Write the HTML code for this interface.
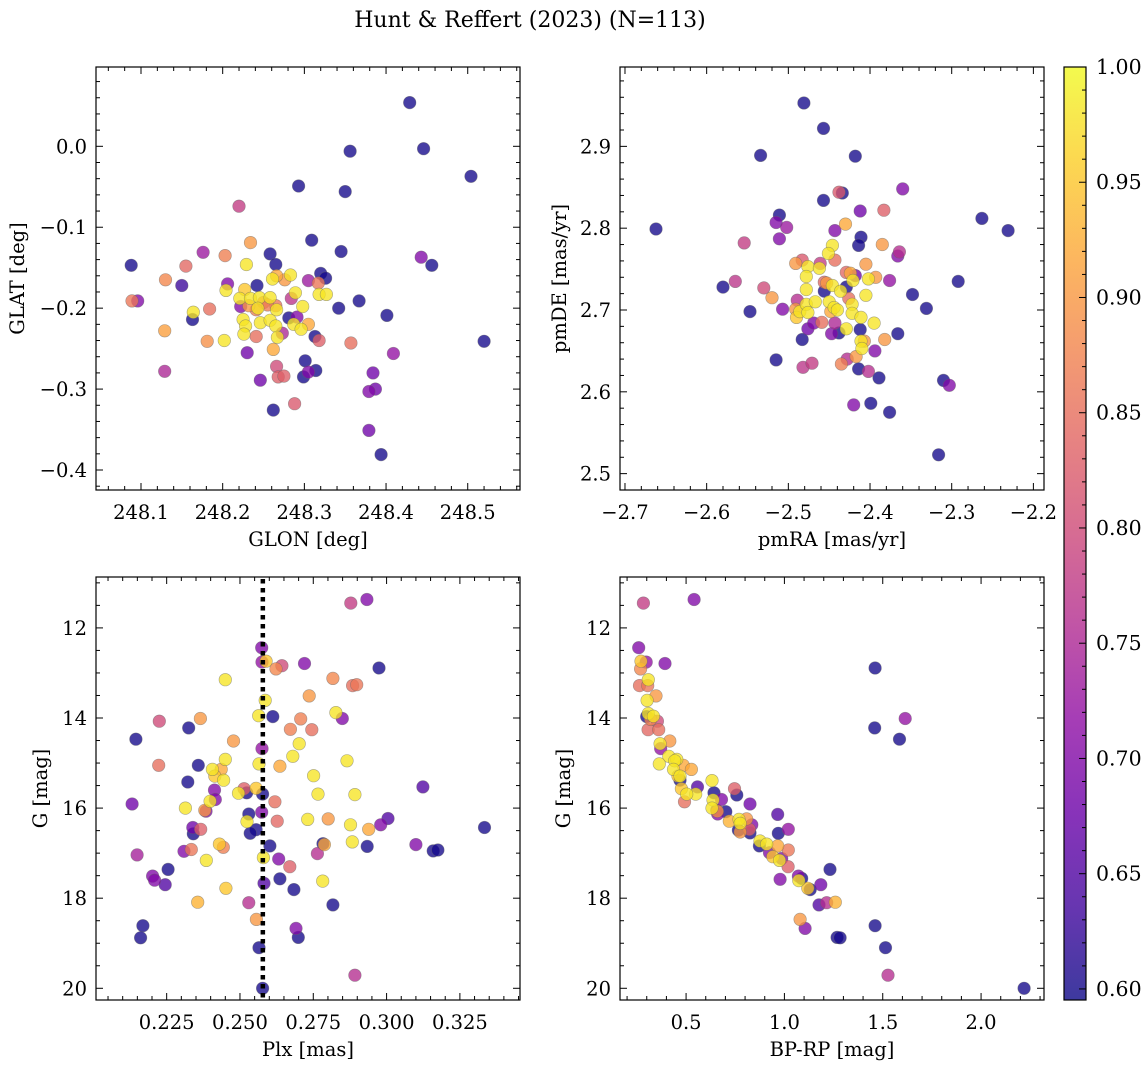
<!DOCTYPE html>
<html><head><meta charset="utf-8">
<style>
html,body{margin:0;padding:0;background:#fff;}
svg{display:block;font-family:"DejaVu Serif","Liberation Serif",serif;}
</style></head>
<body>
<svg id="fig" width="1148" height="1067" viewBox="0 0 1148 1067" xmlns="http://www.w3.org/2000/svg">
<defs>
<linearGradient id="plasma" x1="0" y1="1" x2="0" y2="0">
<stop offset="0" stop-color="#0d0887"/><stop offset="0.1" stop-color="#41049d"/><stop offset="0.2" stop-color="#6a00a8"/><stop offset="0.3" stop-color="#8f0da4"/><stop offset="0.4" stop-color="#b12a90"/><stop offset="0.5" stop-color="#cc4778"/><stop offset="0.6" stop-color="#e16462"/><stop offset="0.7" stop-color="#f2844b"/><stop offset="0.8" stop-color="#fca636"/><stop offset="0.9" stop-color="#fcce25"/><stop offset="1" stop-color="#f0f921"/>
</linearGradient>
</defs>
<text x="530" y="27" font-size="22" text-anchor="middle">Hunt &amp; Reffert (2023) (N=113)</text>
</svg>
<script>
// ---------- data ----------
const glon=[248.429,248.446,248.356,248.504,248.293,248.350,248.220,248.234,248.309,248.345,248.176,248.203,248.258,248.088,248.155,248.229,248.265,248.443,248.456,248.130,248.150,248.206,248.242,248.261,248.266,248.276,248.283,248.305,248.320,248.326,248.317,248.318,248.327,248.089,248.096,248.204,248.227,248.221,248.234,248.245,248.258,248.255,248.265,248.284,248.289,248.222,248.241,248.243,248.266,248.298,248.184,248.342,248.367,248.164,248.163,248.401,248.281,248.291,248.225,248.246,248.258,248.228,248.265,248.287,248.296,248.305,248.129,248.226,248.241,248.267,248.273,248.313,248.318,248.181,248.202,248.262,248.357,248.520,248.230,248.409,248.301,248.266,248.129,248.268,248.275,248.246,248.299,248.305,248.314,248.384,248.379,248.387,248.262,248.288,248.379,248.394,248.232,248.250];
const glat=[0.054,-0.003,-0.006,-0.037,-0.049,-0.056,-0.074,-0.119,-0.116,-0.130,-0.131,-0.135,-0.133,-0.147,-0.148,-0.146,-0.146,-0.137,-0.147,-0.165,-0.172,-0.170,-0.172,-0.164,-0.160,-0.165,-0.159,-0.166,-0.157,-0.163,-0.169,-0.183,-0.183,-0.191,-0.191,-0.178,-0.177,-0.188,-0.188,-0.187,-0.187,-0.196,-0.197,-0.188,-0.181,-0.198,-0.202,-0.200,-0.202,-0.198,-0.201,-0.200,-0.191,-0.205,-0.214,-0.209,-0.212,-0.211,-0.214,-0.218,-0.215,-0.222,-0.222,-0.220,-0.226,-0.220,-0.228,-0.232,-0.235,-0.236,-0.231,-0.235,-0.240,-0.241,-0.240,-0.251,-0.243,-0.241,-0.255,-0.256,-0.265,-0.272,-0.278,-0.285,-0.284,-0.289,-0.285,-0.279,-0.277,-0.280,-0.303,-0.300,-0.326,-0.318,-0.351,-0.381,-0.197,-0.193];
const probA=[0.6,0.6,0.6,0.6,0.6,0.6,0.78,0.9,0.6,0.6,0.73,0.87,0.6,0.6,0.84,0.98,0.6,0.7,0.6,0.88,0.63,0.7,0.6,0.98,0.92,0.9,0.98,0.73,0.6,0.6,0.86,0.98,0.98,0.86,0.7,0.98,0.95,0.98,0.98,0.98,0.98,0.87,0.86,0.77,0.98,0.7,0.87,0.98,0.98,0.98,0.85,0.6,0.6,0.98,0.6,0.6,0.6,0.7,0.98,0.98,0.98,0.98,0.98,0.98,0.98,0.92,0.91,0.98,0.85,0.98,0.75,0.6,0.83,0.89,0.98,0.92,0.85,0.6,0.68,0.72,0.6,0.8,0.75,0.83,0.83,0.68,0.6,0.7,0.6,0.68,0.7,0.68,0.6,0.82,0.68,0.6,0.9,0.86];

const pmra=[-2.481,-2.457,-2.534,-2.418,-2.360,-2.438,-2.434,-2.457,-2.383,-2.412,-2.511,-2.515,-2.502,-2.263,-2.231,-2.662,-2.430,-2.443,-2.511,-2.411,-2.414,-2.554,-2.385,-2.446,-2.451,-2.364,-2.366,-2.491,-2.483,-2.461,-2.476,-2.462,-2.443,-2.405,-2.429,-2.424,-2.478,-2.456,-2.453,-2.446,-2.418,-2.421,-2.402,-2.393,-2.376,-2.292,-2.580,-2.565,-2.530,-2.520,-2.456,-2.478,-2.429,-2.436,-2.405,-2.426,-2.348,-2.331,-2.547,-2.507,-2.489,-2.491,-2.486,-2.478,-2.467,-2.476,-2.450,-2.448,-2.444,-2.440,-2.422,-2.422,-2.411,-2.490,-2.469,-2.476,-2.459,-2.443,-2.429,-2.395,-2.366,-2.447,-2.438,-2.412,-2.483,-2.407,-2.411,-2.410,-2.382,-2.394,-2.515,-2.482,-2.471,-2.435,-2.428,-2.417,-2.414,-2.402,-2.389,-2.310,-2.303,-2.420,-2.399,-2.376,-2.316];
const pmde=[2.953,2.922,2.889,2.888,2.848,2.844,2.843,2.834,2.822,2.821,2.816,2.807,2.801,2.812,2.797,2.799,2.805,2.797,2.787,2.789,2.779,2.782,2.780,2.779,2.769,2.771,2.766,2.757,2.761,2.757,2.753,2.751,2.761,2.756,2.746,2.745,2.741,2.734,2.733,2.730,2.742,2.736,2.738,2.740,2.736,2.735,2.728,2.735,2.727,2.715,2.723,2.725,2.728,2.723,2.718,2.714,2.719,2.702,2.698,2.701,2.712,2.701,2.698,2.707,2.710,2.697,2.710,2.698,2.703,2.700,2.707,2.696,2.691,2.691,2.684,2.677,2.685,2.684,2.677,2.684,2.671,2.671,2.672,2.676,2.664,2.662,2.662,2.653,2.664,2.650,2.639,2.630,2.635,2.634,2.640,2.643,2.628,2.625,2.617,2.614,2.608,2.584,2.586,2.575,2.523];
const probB=[0.6,0.6,0.6,0.6,0.7,0.82,0.6,0.6,0.83,0.68,0.6,0.7,0.73,0.6,0.6,0.6,0.92,0.7,0.7,0.6,0.6,0.78,0.9,0.98,0.98,0.76,0.7,0.9,0.82,0.78,0.98,0.98,0.85,0.9,0.84,0.92,0.98,0.84,0.9,0.98,0.68,0.98,0.98,0.9,0.72,0.6,0.6,0.77,0.8,0.9,0.6,0.98,0.6,0.98,0.98,0.85,0.6,0.6,0.6,0.7,0.76,0.9,0.98,0.98,0.98,0.98,0.98,0.92,0.98,0.98,0.98,0.98,0.98,0.95,0.7,0.68,0.85,0.75,0.98,0.98,0.6,0.7,0.6,0.6,0.6,0.9,0.98,0.98,0.9,0.7,0.6,0.77,0.78,0.87,0.76,0.9,0.6,0.76,0.6,0.6,0.7,0.7,0.6,0.6,0.6];

const plx=[0.2933,0.2878,0.2574,0.2575,0.2589,0.2623,0.2643,0.2720,0.2974,0.2450,0.2817,0.2884,0.2898,0.2736,0.2586,0.2564,0.2612,0.2827,0.2849,0.2707,0.2225,0.2365,0.2325,0.2672,0.2745,0.2145,0.2478,0.2702,0.2575,0.2680,0.2450,0.2865,0.2565,0.2223,0.2358,0.2636,0.2406,0.2436,0.2414,0.2444,0.2751,0.2322,0.3124,0.2514,0.2555,0.2523,0.2495,0.2577,0.2413,0.2416,0.2398,0.2766,0.2892,0.2619,0.2132,0.2314,0.2384,0.2380,0.2574,0.2530,0.3005,0.2731,0.2801,0.2627,0.2524,0.2980,0.2877,0.2939,0.2339,0.2366,0.3334,0.2555,0.2535,0.2341,0.2883,0.2430,0.2443,0.2788,0.2783,0.2602,0.2934,0.3100,0.3159,0.3175,0.2309,0.2334,0.2764,0.2149,0.2385,0.2580,0.2632,0.2670,0.2255,0.2202,0.2209,0.2245,0.2636,0.2782,0.2582,0.2452,0.2684,0.2817,0.2356,0.2530,0.2556,0.2169,0.2691,0.2161,0.2699,0.2565,0.2892,0.2577];
const gmagC=[11.37,11.45,12.44,12.76,12.74,12.91,12.84,12.79,12.89,13.15,13.12,13.28,13.26,13.51,13.61,13.95,13.97,13.88,14.01,14.02,14.07,14.01,14.22,14.25,14.26,14.47,14.51,14.57,14.68,14.85,14.92,14.95,15.02,15.05,15.05,15.07,15.14,15.14,15.29,15.38,15.28,15.42,15.53,15.57,15.56,15.66,15.67,15.69,15.60,15.81,15.85,15.69,15.70,15.86,15.91,16.00,16.07,16.05,16.09,16.13,16.23,16.25,16.24,16.29,16.30,16.37,16.37,16.47,16.43,16.47,16.43,16.48,16.56,16.57,16.75,16.80,16.87,16.81,16.79,16.84,16.85,16.81,16.95,16.93,16.96,16.92,17.01,17.04,17.16,17.10,17.13,17.30,17.36,17.51,17.60,17.70,17.57,17.62,17.67,17.78,17.81,18.15,18.09,18.10,18.47,18.61,18.67,18.88,18.87,19.10,19.71,20.00];
const probC=[0.7,0.78,0.7,0.72,0.95,0.88,0.8,0.7,0.6,0.98,0.88,0.85,0.86,0.9,0.98,0.98,0.6,0.98,0.7,0.87,0.8,0.9,0.6,0.87,0.85,0.6,0.9,0.98,0.72,0.98,0.98,0.98,0.98,0.85,0.6,0.92,0.98,0.92,0.95,0.98,0.98,0.6,0.65,0.83,0.95,0.6,0.98,0.6,0.7,0.7,0.98,0.98,0.98,0.85,0.68,0.98,0.7,0.9,0.7,0.6,0.65,0.98,0.9,0.84,0.98,0.7,0.98,0.92,0.68,0.83,0.6,0.6,0.6,0.6,0.98,0.95,0.87,0.92,0.6,0.6,0.6,0.7,0.6,0.6,0.7,0.86,0.76,0.74,0.98,0.98,0.7,0.83,0.6,0.7,0.7,0.65,0.6,0.98,0.65,0.95,0.6,0.6,0.93,0.76,0.9,0.6,0.7,0.6,0.6,0.6,0.76,0.6];
const plxRef=[0.2578];

const bprp=[0.283,0.541,0.259,0.297,0.271,0.269,0.393,1.461,0.308,0.305,0.263,0.347,0.302,0.308,0.300,1.614,0.334,0.354,0.320,0.307,0.361,1.459,1.585,0.417,0.368,0.371,0.412,0.364,0.453,0.442,0.486,0.527,0.436,0.459,0.469,0.469,0.632,0.558,0.476,0.746,0.758,0.642,0.549,0.503,0.680,0.637,0.492,0.825,0.632,0.656,0.659,0.702,0.966,0.661,0.720,0.769,0.808,0.775,0.834,1.020,0.969,0.825,0.766,0.822,0.775,0.873,0.876,0.910,0.966,0.924,1.020,0.986,0.941,0.975,1.019,1.232,0.978,1.071,1.088,1.073,1.185,1.131,1.119,1.176,1.215,1.259,1.080,1.105,1.461,1.268,1.283,1.514,1.527,2.219];
const gmagD=[11.45,11.37,12.44,12.76,12.74,12.91,12.79,12.89,13.15,13.28,13.28,13.51,13.61,13.90,13.97,14.01,13.96,14.07,14.03,14.26,14.26,14.22,14.47,14.51,14.57,14.68,14.85,15.02,14.92,14.95,15.05,15.14,15.14,15.29,15.38,15.29,15.39,15.53,15.57,15.57,15.71,15.66,15.69,15.69,15.81,15.82,15.86,15.91,16.00,16.05,16.07,16.08,16.14,16.13,16.29,16.25,16.24,16.34,16.37,16.47,16.56,16.55,16.49,16.47,16.53,16.84,16.73,16.80,16.84,16.99,16.93,17.12,17.08,17.16,17.30,17.36,17.58,17.51,17.56,17.61,17.70,17.81,17.78,18.15,18.10,18.09,18.47,18.67,18.61,18.87,18.88,19.10,19.71,20.00];
const probD=[0.78,0.7,0.7,0.72,0.95,0.88,0.7,0.6,0.98,0.86,0.85,0.9,0.98,0.98,0.6,0.72,0.98,0.8,0.87,0.84,0.85,0.6,0.6,0.9,0.98,0.72,0.98,0.98,0.98,0.98,0.92,0.92,0.98,0.95,0.6,0.98,0.98,0.65,0.95,0.83,0.6,0.6,0.98,0.98,0.7,0.98,0.85,0.68,0.98,0.7,0.9,0.6,0.65,0.7,0.93,0.98,0.9,0.98,0.7,0.72,0.6,0.6,0.6,0.83,0.9,0.6,0.98,0.98,0.92,0.7,0.86,0.7,0.95,0.98,0.83,0.6,0.7,0.7,0.6,0.98,0.68,0.6,0.95,0.65,0.76,0.93,0.9,0.7,0.6,0.6,0.6,0.6,0.76,0.6];

const cbTicks=[0.60,0.65,0.70,0.75,0.80,0.85,0.90,0.95,1.00];
const cbRange=[0.5952,1.0];

// ---------- helpers ----------
const NS="http://www.w3.org/2000/svg";
const svg=document.getElementById('fig');
function mk(tag,attrs,parent){const e=document.createElementNS(NS,tag);for(const k in attrs)e.setAttribute(k,attrs[k]);(parent||svg).appendChild(e);return e;}
const stops=[[0,[13,8,135]],[0.1,[65,4,157]],[0.2,[106,0,168]],[0.3,[143,13,164]],[0.4,[177,42,144]],[0.5,[204,71,120]],[0.6,[225,100,98]],[0.7,[242,132,75]],[0.8,[252,166,54]],[0.9,[252,206,37]],[1,[240,249,33]]];
function plasma(t){t=Math.max(0,Math.min(1,t));for(let i=1;i<stops.length;i++){if(t<=stops[i][0]){const a=stops[i-1],b=stops[i];const f=(t-a[0])/(b[0]-a[0]);const c=a[1].map((v,j)=>Math.round(v+(b[1][j]-v)*f));return `rgb(${c[0]},${c[1]},${c[2]})`;}}return 'rgb(240,249,33)';}

const TICKFS=19.5, LABFS=19.5;
function panel(cfg){
  const g=mk('g',{});
  
  
  const {L,T,W,H,xr,yr}=cfg;
  const sx=v=>L+(v-xr[0])/(xr[1]-xr[0])*W;
  const sy=v=>T+(yr[1]-v)/(yr[1]-yr[0])*H;
  const idx=cfg.xs.map((_,i)=>i).sort((a,b)=>cfg.p[a]-cfg.p[b]);
  const pg=mk('g',{},g);
  
  
  idx.forEach(i=>{
    const c=mk('circle',{cx:sx(cfg.xs[i]).toFixed(1),cy:sy(cfg.ys[i]).toFixed(1),r:6.3,fill:plasma((cfg.p[i]-cbRange[0])/(cbRange[1]-cbRange[0])),'fill-opacity':0.78,stroke:'#666','stroke-opacity':0.55,'stroke-width':0.6},pg);
    
    
  });
  if(cfg.vline){cfg.vline.forEach(v=>{const l=mk('line',{x1:sx(v),x2:sx(v),y1:T+2,y2:T+H,stroke:'#000','stroke-width':4.5,'stroke-dasharray':'4.5 4.5'},g);
    
    });}
  const fr=mk('rect',{x:L,y:T,width:W,height:H,fill:'none',stroke:'#000','stroke-width':1.2},g);
  
  
  const tk=mk('g',{stroke:'#000','stroke-width':1},g);
  function minors(r,step,majors){const out=[];const lo=Math.min(r[0],r[1]),hi=Math.max(r[0],r[1]);for(let k=Math.ceil(lo/step-1e-6);k*step<=hi+1e-9;k++){const v=k*step;if(!majors.some(m=>Math.abs(m-v)<step*0.1))out.push(v);}return out;}
  cfg.xt.forEach(v=>{const x=sx(v);mk('line',{x1:x,x2:x,y1:T+H,y2:T+H-7},tk);mk('line',{x1:x,x2:x,y1:T,y2:T+7},tk);});
  minors(xr,cfg.xm,cfg.xt).forEach(v=>{const x=sx(v);mk('line',{x1:x,x2:x,y1:T+H,y2:T+H-4},tk);mk('line',{x1:x,x2:x,y1:T,y2:T+4},tk);});
  cfg.yt.forEach(v=>{const y=sy(v);mk('line',{x1:L,x2:L+7,y1:y,y2:y},tk);mk('line',{x1:L+W,x2:L+W-7,y1:y,y2:y},tk);});
  minors(yr,cfg.ym,cfg.yt).forEach(v=>{const y=sy(v);mk('line',{x1:L,x2:L+4,y1:y,y2:y},tk);mk('line',{x1:L+W,x2:L+W-4,y1:y,y2:y},tk);});
  cfg.xt.forEach((v,i)=>{const t=mk('text',{x:sx(v),y:T+H+29,'font-size':TICKFS,'text-anchor':'middle'},g);t.textContent=cfg.xtl[i];
    
    });
  cfg.yt.forEach((v,i)=>{const t=mk('text',{x:L-9,y:sy(v)+7,'font-size':TICKFS,'text-anchor':'end'},g);t.textContent=cfg.ytl[i];
    
    });
  const xl=mk('text',{x:L+W/2,y:T+H+56,'font-size':LABFS,'text-anchor':'middle'},g);xl.textContent=cfg.xlabel;
  
  
  const yl=mk('text',{x:cfg.ylx,y:T+H/2,'font-size':LABFS,'text-anchor':'middle',transform:`rotate(-90 ${cfg.ylx} ${T+H/2})`},g);yl.textContent=cfg.ylabel;
  
  
}

panel({name:'glon-glat-panel',L:96,T:67,W:424,H:423,xr:[248.0449,248.564],yr:[-0.4247,0.098],xs:glon,ys:glat,p:probA,
  xt:[248.1,248.2,248.3,248.4,248.5],xtl:['248.1','248.2','248.3','248.4','248.5'],xm:0.02,
  yt:[0,-0.1,-0.2,-0.3,-0.4],ytl:['0.0','\u22120.1','\u22120.2','\u22120.3','\u22120.4'],ym:0.02,xlabel:'GLON [deg]',ylabel:'GLAT [deg]',ylx:24});
panel({name:'pm-panel',L:620,T:67,W:424,H:423,xr:[-2.7061,-2.187],yr:[2.480,2.997],xs:pmra,ys:pmde,p:probB,
  xt:[-2.7,-2.6,-2.5,-2.4,-2.3,-2.2],xtl:['\u22122.7','\u22122.6','\u22122.5','\u22122.4','\u22122.3','\u22122.2'],xm:0.02,
  yt:[2.5,2.6,2.7,2.8,2.9],ytl:['2.5','2.6','2.7','2.8','2.9'],ym:0.02,xlabel:'pmRA [mas/yr]',ylabel:'pmDE [mas/yr]',ylx:566});
panel({name:'plx-g-panel',L:96,T:577,W:424,H:423,xr:[0.2009,0.3455],yr:[20.26,10.87],xs:plx,ys:gmagC,p:probC,vline:plxRef,
  xt:[0.225,0.25,0.275,0.3,0.325],xtl:['0.225','0.250','0.275','0.300','0.325'],xm:0.005,
  yt:[12,14,16,18,20],ytl:['12','14','16','18','20'],ym:0.5,xlabel:'Plx [mas]',ylabel:'G [mag]',ylx:47});
panel({name:'cmd-panel',L:620,T:577,W:424,H:423,xr:[0.164,2.320],yr:[20.26,10.87],xs:bprp,ys:gmagD,p:probD,
  xt:[0.5,1.0,1.5,2.0],xtl:['0.5','1.0','1.5','2.0'],xm:0.1,
  yt:[12,14,16,18,20],ytl:['12','14','16','18','20'],ym:0.5,xlabel:'BP-RP [mag]',ylabel:'G [mag]',ylx:570});

(function(){
  const g=mk('g',{});
  
  
  const L=1064,T=67,W=22,H=933;
  const sy=v=>T+(cbRange[1]-v)/(cbRange[1]-cbRange[0])*H;
  mk('rect',{x:L,y:T,width:W,height:H,fill:'url(#plasma)','fill-opacity':0.8},g);
  mk('rect',{x:L,y:T,width:W,height:H,fill:'none',stroke:'#000','stroke-width':1.2},g);
  for(let k=60;k<=100;k++){const v=k/100;const y=sy(v);const major=k%5===0;mk('line',{x1:L+W,x2:L+W-(major?7:4),y1:y,y2:y,stroke:'#000','stroke-width':1},g);}
  cbTicks.forEach(v=>{const t=mk('text',{x:L+32,y:sy(v)+7,'font-size':20.5},g);t.textContent=v.toFixed(2);
    
    });
})();
</script>
</body></html>
